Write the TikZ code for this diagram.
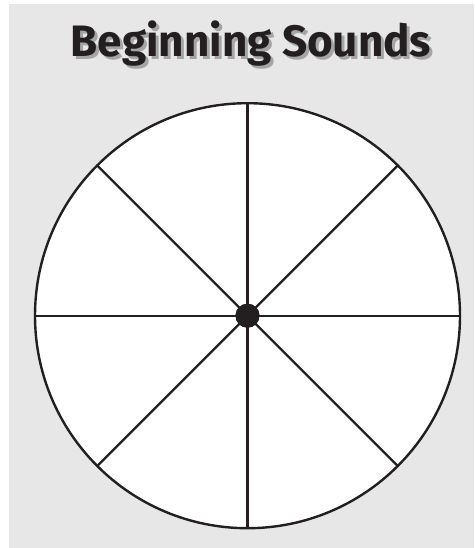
\documentclass[tikz,border=0pt]{standalone}
\usepackage{fontspec}
\newfontfamily\titlefont{Fira Sans}
\definecolor{panel}{HTML}{E6E7E6}
\definecolor{ink}{HTML}{231F20}
\definecolor{shade}{HTML}{A4A5A4}
\newcommand{\shadowtitle}[1]{\makebox[0pt][l]{\hspace{3pt}\raisebox{-3pt}{\color{shade}#1}}#1}
\tikzset{
  wheel/.style={circle, draw=ink, fill=white, line width=2.4pt, minimum size=425pt, inner sep=0pt, outer sep=0pt},
  hub/.style={circle, fill=ink, minimum size=24pt, inner sep=0pt, outer sep=0pt},
  spoke/.style={draw=ink, line width=2.3pt},
  titletext/.style={font=\titlefont\bfseries\fontsize{44}{48}\selectfont, text=ink, anchor=base, inner sep=0pt}
}
\begin{document}
\begin{tikzpicture}[x=1pt,y=-1pt]
\useasboundingbox (0,0) rectangle (474,548);
\fill[white] (0,0) rectangle (474,548);
\fill[panel] (9,4) rectangle (474,548);
\node[titletext] (title) at (251,57) {\shadowtitle{Beginning Sounds}};
\node[wheel] (w) at (247.5,315.7) {};
\node[hub] (c) at (247.5,315.7) {};
\foreach \a in {0,45,...,315}{
  \draw[spoke] (c.center) -- (w.\a);
}
\node[hub] at (c) {};
\end{tikzpicture}
\end{document}
